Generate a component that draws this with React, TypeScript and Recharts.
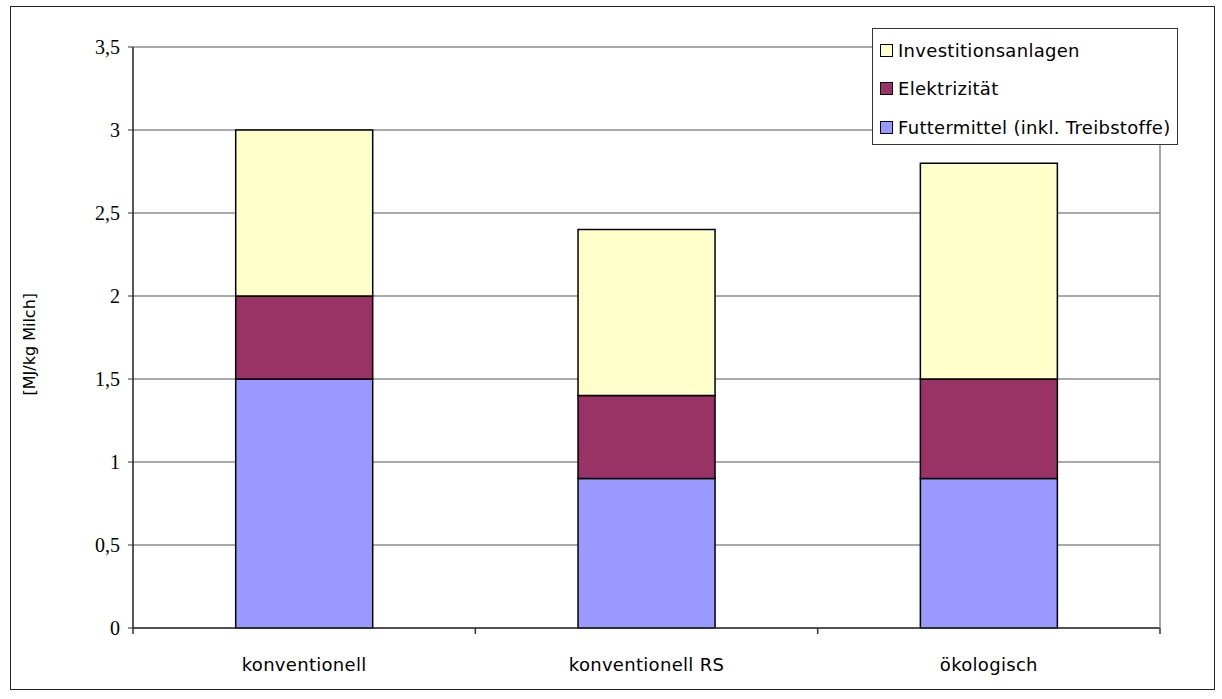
import React from 'react';
import { BarChart, Bar, XAxis, YAxis, CartesianGrid } from 'recharts';

// data
const categories = ['konventionell', 'konventionell RS', 'ökologisch'];
const futtermittel = [1.5, 0.9, 0.9];
const elektrizitaet = [0.5, 0.5, 0.6];
const investitionen = [1.0, 1.0, 1.3];
const yTicks = [0, 0.5, 1, 1.5, 2, 2.5, 3, 3.5];
const categoryEdges = [0, 1, 2, 3];

const seriesNames = {
  futter: 'Futtermittel (inkl. Treibstoffe)',
  strom: 'Elektrizität',
  invest: 'Investitionsanlagen',
};

const colors = {
  futter: '#9999FF',
  strom: '#993366',
  invest: '#FFFFCC',
};

const chartData = categories.map((name, i) => ({
  name,
  idx: i + 0.5,
  futter: futtermittel[i],
  strom: elektrizitaet[i],
  invest: investitionen[i],
}));

const sans = '"DejaVu Sans", sans-serif';
const serif = '"Liberation Serif", "Times New Roman", serif';

const legendItems = [
  { key: 'invest', label: seriesNames.invest },
  { key: 'strom', label: seriesNames.strom },
  { key: 'futter', label: seriesNames.futter },
];

const LegendBox = () => (
  <div
    style={{
      position: 'absolute',
      left: 872,
      top: 28,
      width: 306,
      height: 117,
      border: '1px solid #333',
      background: '#fff',
      boxSizing: 'border-box',
      paddingTop: 2,
      paddingLeft: 7,
      fontFamily: sans,
      fontSize: 18,
      letterSpacing: 0.3,
      color: '#000',
    }}
  >
    {legendItems.map((it) => (
      <div key={it.key} style={{ display: 'flex', alignItems: 'center', height: 38.5 }}>
        <span
          style={{
            display: 'inline-block',
            width: 11,
            height: 11,
            border: '1.5px solid #000',
            background: (colors as any)[it.key],
            marginRight: 5,
          }}
        />
        <span>{it.label}</span>
      </div>
    ))}
  </div>
);

// tick mark only, at the category boundaries
const EdgeTick = (props: any) => {
  const { x, payload, index } = props;
  return (
    <line
      key={`edge-${index}-${payload?.value}`}
      x1={x}
      x2={x}
      y1={628}
      y2={634}
      stroke="#333"
      strokeWidth={1.5}
    />
  );
};

export default function App() {
  return (
    <div style={{ position: 'absolute', left: 0, top: 0, width: 1222, height: 699, background: '#fff' }}>
      <div
        style={{
          position: 'absolute',
          left: 10,
          top: 6,
          width: 1205,
          height: 684,
          border: '1.5px solid #222',
          boxSizing: 'border-box',
        }}
      />
      <BarChart
        width={1222}
        height={699}
        data={chartData}
        margin={{ top: 47, right: 61, left: 73, bottom: 21 }}
        barCategoryGap="30%"
        style={{ position: 'absolute', left: 0, top: 0 }}
      >
        <CartesianGrid vertical={false} stroke="#555" strokeWidth={1} />
        <XAxis
          dataKey="name"
          axisLine={{ stroke: '#333', strokeWidth: 1.5 }}
          tickLine={false}
          height={40}
          tick={{ fontFamily: sans, fontSize: 18, letterSpacing: 0.3, fill: '#000', dy: 22 }}
        />
        <XAxis
          xAxisId="edges"
          type="number"
          dataKey="idx"
          domain={[0, 3]}
          ticks={categoryEdges}
          interval={0}
          axisLine={false}
          tickLine={false}
          tick={<EdgeTick />}
          height={10}
        />
        <YAxis
          domain={[0, 3.5]}
          ticks={yTicks}
          width={60}
          axisLine={{ stroke: '#222', strokeWidth: 1.5 }}
          tickLine={{ stroke: '#333' }}
          tickSize={5}
          tickFormatter={(v: number) => String(v).replace('.', ',')}
          tick={{ fontFamily: serif, fontSize: 20, fill: '#000', dx: -6 }}
          label={{
            value: '[MJ/kg Milch]',
            angle: -90,
            position: 'insideLeft',
            dx: -49,
            dy: 58,
            style: { fontFamily: sans, fontSize: 16, fill: '#000' },
          }}
        />
        <YAxis
          yAxisId="right"
          orientation="right"
          domain={[0, 3.5]}
          width={1}
          tick={false}
          tickLine={false}
          axisLine={{ stroke: '#888', strokeWidth: 1.5 }}
        />
        <Bar dataKey="futter" stackId="a" fill={colors.futter} stroke="#000" strokeWidth={1.5} isAnimationActive={false} />
        <Bar dataKey="strom" stackId="a" fill={colors.strom} stroke="#000" strokeWidth={1.5} isAnimationActive={false} />
        <Bar dataKey="invest" stackId="a" fill={colors.invest} stroke="#000" strokeWidth={1.5} isAnimationActive={false} />
      </BarChart>
      <LegendBox />
    </div>
  );
}
